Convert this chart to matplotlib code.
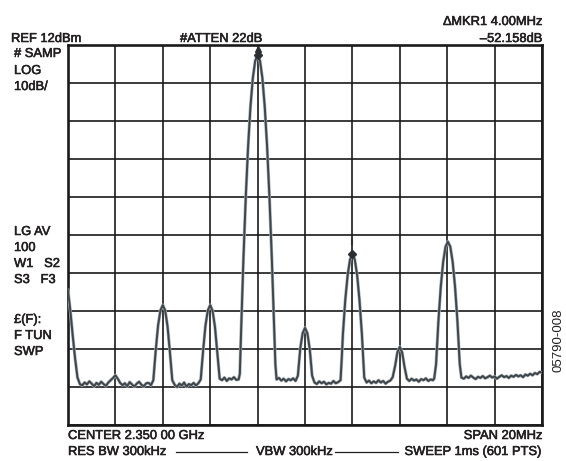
import matplotlib
matplotlib.use("Agg")
import matplotlib.pyplot as plt
import matplotlib.patheffects as pe

plt.rcParams['font.family'] = ['Liberation Sans', 'DejaVu Sans']

# spectrum trace: frequency offset from centre (MHz), level (dBm)
freq_mhz = [
    -10.0, -9.9, -9.8, -9.7, -9.6, -9.5,
    -9.4, -9.3, -9.2, -9.1, -9.0, -8.9, -8.8, -8.7, -8.6, -8.5, -8.4, -8.3, -8.2,
    -8.1, -8.0, -7.9,
    -7.8, -7.7, -7.6, -7.5, -7.4, -7.3, -7.2, -7.1, -7.0, -6.9, -6.8, -6.7, -6.6, -6.5,
    -6.4, -6.3, -6.2, -6.1, -6.0, -5.9, -5.8, -5.7, -5.6,
    -5.5, -5.4, -5.3, -5.2, -5.1, -5.0, -4.9, -4.8, -4.7, -4.6, -4.5,
    -4.4, -4.3, -4.2, -4.1, -4.0, -3.9, -3.8, -3.7, -3.6,
    -3.5, -3.4, -3.3, -3.2, -3.1, -3.0, -2.9,
    -2.8, -2.75, -2.7, -2.6, -2.5, -2.4, -2.3, -2.2, -2.1, -2.0,
    -1.9, -1.8, -1.7, -1.6, -1.5, -1.4, -1.3, -1.25, -1.2,
    -1.1, -1.0, -0.9, -0.8, -0.7, -0.6, -0.5, -0.4,
    -0.3, -0.2, -0.1, 0.0, 0.1, 0.2, 0.3,
    0.4, 0.5, 0.6, 0.7, 0.8, 0.9, 1.0, 1.1, 1.2, 1.3, 1.4,
    1.5, 1.55, 1.6, 1.7, 1.8, 1.9, 2.0, 2.1, 2.2, 2.3, 2.4, 2.45, 2.5,
    2.6, 2.7, 2.8, 2.9, 3.0, 3.1, 3.2, 3.3, 3.4, 3.5, 3.6,
    3.7, 3.8, 3.9, 4.0, 4.1, 4.2, 4.3,
    4.4, 4.5, 4.6, 4.7, 4.8, 4.9, 5.0, 5.1, 5.2, 5.3, 5.4,
    5.45, 5.53, 5.63, 5.73, 5.83, 5.93, 6.03, 6.13, 6.23, 6.33, 6.43, 6.53, 6.6,
    6.7, 6.8, 6.9, 7.0, 7.1, 7.2, 7.3, 7.4, 7.5, 7.6, 7.7, 7.8, 7.9, 8.0, 8.1, 8.2, 8.3,
    8.4, 8.5, 8.6, 8.7, 8.8, 8.9, 9.0, 9.1, 9.2, 9.3, 9.4, 9.5, 9.6, 9.7, 9.8, 9.9, 10.0,
]
level_dbm = [
    -52.5, -58.0, -64.5, -70.5, -75.5, -77.2,
    -77.6, -76.8, -77.3, -76.5, -77.1, -77.8, -76.9, -77.4, -76.6, -77.2, -77.7, -76.8, -76.2,
    -75.6, -74.9, -75.8,
    -76.9, -77.5, -77.0, -77.8, -76.7, -77.3, -77.9, -77.1, -76.6, -77.4, -77.8, -77.0, -76.9, -77.5,
    -76.2, -68.5, -61.8, -57.8, -56.4, -57.8, -62.0, -68.8, -76.2,
    -77.4, -78.0, -77.1, -77.6, -76.8, -77.9, -77.2, -77.5, -76.9, -77.6, -77.0,
    -76.0, -68.5, -61.8, -57.8, -56.4, -57.9, -62.1, -69.0, -75.8,
    -76.2, -75.5, -76.4, -75.7, -76.0, -75.4, -76.1,
    -76.0, -74.5, -64.0, -44.5, -28.0, -14.5, -4.0, 3.5, 8.0, 9.5,
    8.0, 3.5, -4.0, -14.5, -28.0, -44.0, -63.0, -72.0, -76.0,
    -75.6, -76.3, -75.8, -76.5, -75.9, -76.2, -75.7, -76.4,
    -75.0, -67.8, -63.8, -62.4, -63.8, -68.0, -75.0,
    -76.8, -77.2, -76.5, -77.0, -76.6, -77.3, -76.9, -77.1, -76.4, -77.0, -76.7,
    -76.2, -70.5, -64.0, -55.0, -48.5, -44.4, -43.0, -44.4, -48.5, -55.2, -64.0, -70.0, -75.5,
    -76.8, -76.3, -77.0, -76.5, -76.9, -76.2, -76.8, -76.4, -77.1, -76.6, -76.3,
    -75.4, -72.5, -68.8, -67.4, -68.9, -72.7, -75.8,
    -76.4, -75.8, -76.3, -76.0, -76.6, -75.9, -76.2, -75.7, -76.4, -76.0, -76.2,
    -75.8, -72.0, -60.5, -51.5, -45.0, -41.0, -39.7, -41.0, -45.0, -51.5, -60.5, -72.0, -75.5,
    -75.8, -75.2, -75.6, -75.0, -75.5, -75.9, -75.3, -75.6, -75.1, -75.7, -75.4, -75.0, -75.5, -75.2, -75.8, -75.3, -74.9,
    -75.4, -75.1, -75.6, -75.0, -75.3, -74.8, -75.2, -74.9, -75.4, -74.7, -75.0, -74.5, -74.9, -74.3, -74.6, -74.0, -74.2,
]

# markers: MKR1 reference on the carrier, delta marker 4 MHz away
marker_freq = [-2.0, 2.0]
marker_level = [9.5, -43.0]

ref_level = 12
db_per_div = 10
span_mhz = 20

W, H = 566, 461
fig = plt.figure(figsize=(W / 100, H / 100), dpi=100)
fig.patch.set_facecolor('white')

def px(x, y):
    return x / W, 1 - y / H

ax = fig.add_axes([68 / W, 1 - 425 / H, (542 - 68) / W, (425 - 45.5) / H])
ax.set_xlim(-span_mhz / 2, span_mhz / 2)
ax.set_ylim(ref_level - 10 * db_per_div, ref_level)
ax.set_xticks(range(-10, 11, 2))
ax.set_yticks(range(ref_level - 100, ref_level + 1, db_per_div))
ax.tick_params(length=0, labelbottom=False, labelleft=False)
ax.grid(True, color='#1a1a1a', linewidth=1.2)
for s in ax.spines.values():
    s.set_linewidth(1.9)
    s.set_color('#1a1a1a')

ax.plot(freq_mhz, level_dbm, color='#3e464b', linewidth=1.4, zorder=3,
        path_effects=[pe.Stroke(linewidth=2.3, foreground='#a9b0b4'), pe.Normal()])
ax.plot(marker_freq, marker_level, linestyle='none', marker='D', markersize=4.5,
        color='#2b2f33', zorder=4)
ax.plot(marker_freq[0], 11.0, linestyle='none', marker='^', markersize=5,
        color='#2b2f33', zorder=4, clip_on=False)
ax.plot(marker_freq[1], -39.8, linestyle='none', marker='|', markersize=4,
        markeredgewidth=1.5, color='#2b2f33', zorder=4)

fs = 9.3
tc = '#231f20'
heavy = [pe.withStroke(linewidth=0.4, foreground=tc)]

def label(x, y, s, ha='left', **kw):
    fig.text(*px(x, y), s, ha=ha, va='center', fontsize=kw.pop('size', fs), color=tc,
             path_effects=heavy, **kw)

label(11, 39, 'REF 12dBm')
label(180, 39, '#ATTEN 22dB')
label(542, 22, '∆MKR1 4.00MHz', ha='right')
label(542, 39, '–52.158dB', ha='right')

for y, s in [(54, '# SAMP'), (71, 'LOG'), (87, '10dB/'),
             (232, 'LG AV'), (248, '100'), (264, 'W1   S2'), (280, 'S3   F3'),
             (320, '£(F):'), (336, 'F TUN'), (352, 'SWP')]:
    label(14, y, s)

label(68, 436, 'CENTER 2.350 00 GHz')
label(542, 436, 'SPAN 20MHz', ha='right')
label(68, 452, 'RES BW 300kHz')
label(256, 452, 'VBW 300kHz')
label(541, 452, 'SWEEP 1ms (601 PTS)', ha='right')
for x0, x1 in [(176, 247), (335, 398)]:
    fig.add_artist(plt.Line2D([x0 / W, x1 / W], [1 - 452 / H] * 2, color=tc, linewidth=0.9))

fig.text(*px(559, 340), '05790-008', rotation=90, ha='center', va='center',
         fontsize=9.5, color=tc)

fig.savefig('out.png', dpi=100)
